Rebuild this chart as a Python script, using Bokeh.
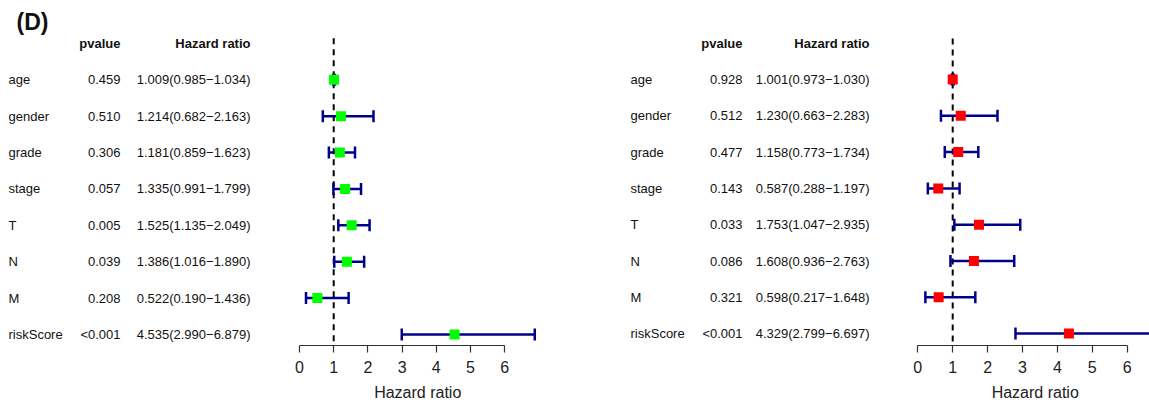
from bokeh.plotting import figure
from bokeh.layouts import row
from bokeh.models import Range1d, FixedTicker, Label, ColumnDataSource, Title
from bokeh.core.properties import value
from bokeh.embed import file_html
from bokeh.resources import INLINE

# ---------------- data ----------------
variables = ["age", "gender", "grade", "stage", "T", "N", "M", "riskScore"]

uni_p = ["0.459", "0.510", "0.306", "0.057", "0.005", "0.039", "0.208", "<0.001"]
uni_hr = [1.009, 1.214, 1.181, 1.335, 1.525, 1.386, 0.522, 4.535]
uni_low = [0.985, 0.682, 0.859, 0.991, 1.135, 1.016, 0.190, 2.990]
uni_high = [1.034, 2.163, 1.623, 1.799, 2.049, 1.890, 1.436, 6.879]

multi_p = ["0.928", "0.512", "0.477", "0.143", "0.033", "0.086", "0.321", "<0.001"]
multi_hr = [1.001, 1.230, 1.158, 0.587, 1.753, 1.608, 0.598, 4.329]
multi_low = [0.973, 0.663, 0.773, 0.288, 1.047, 0.936, 0.217, 2.799]
multi_high = [1.030, 2.283, 1.734, 1.197, 2.935, 2.763, 1.648, 6.697]

x_ticks = [0, 1, 2, 3, 4, 5, 6]
panel_tag = "(D)"
col_headers = ["pvalue", "Hazard ratio"]
axis_title = "Hazard ratio"

FONT = "Liberation Sans"
H = 409


def make_panel(width, zero_px, scale, row0, sp, axis_y, top_px,
               name_px, p_px, hr_px, pvals, hr, low, high, color, tag=None):
    def xd(px):
        return (px - zero_px) / scale

    def yd(px):
        return 1 + (px - row0) / sp

    p = figure(width=width, height=H, output_backend="svg", toolbar_location=None,
               x_range=Range1d(xd(0), xd(width)),
               y_range=Range1d(yd(axis_y), yd(0)),
               y_axis_location=None,
               min_border_left=0, min_border_right=0, min_border_top=0,
               min_border_bottom=H - axis_y)
    p.outline_line_color = None
    p.grid.visible = False
    p.background_fill_color = "white"
    p.border_fill_color = "white"

    n = len(variables)
    ys = list(range(1, n + 1))
    hr_txt = ["%.3f(%.3f\u2212%.3f)" % (a, b, c) for a, b, c in zip(hr, low, high)]
    src = ColumnDataSource(dict(y=ys, name=variables, pv=pvals, hrt=hr_txt,
                                hr=hr, low=low, high=high))

    # table text
    common = dict(text_baseline="middle", text_font=value(FONT),
                  text_font_size="13px", text_color="#111111")
    p.text(x=xd(name_px), y="y", text="name", source=src, text_align="left", **common)
    p.text(x=xd(p_px), y="y", text="pv", source=src, text_align="right", **common)
    p.text(x=xd(hr_px), y="y", text="hrt", source=src, text_align="right", **common)
    p.text(x=[xd(p_px), xd(hr_px)], y=[0, 0], text=col_headers, text_align="right",
           text_font_style="bold", **common)

    # reference line at HR = 1
    p.segment(x0=1, x1=1, y0=yd(top_px), y1=yd(axis_y), line_color="black",
              line_width=2, line_dash="6 5")

    # confidence intervals
    p.segment(x0="low", x1="high", y0="y", y1="y", source=src,
              line_color="#00008B", line_width=2.5)
    for col in ("low", "high"):
        p.scatter(x=col, y="y", source=src, marker="dash", size=12, angle=1.5708,
                  line_color="#00008B", line_width=2.5)
    p.scatter(x="hr", y="y", source=src, marker="square", size=10,
              fill_color=color, line_color=None)

    # axis
    ax = p.xaxis[0]
    ax.bounds = (0, 6)
    ax.ticker = FixedTicker(ticks=x_ticks)
    ax.major_tick_out = 7
    ax.major_tick_in = 0
    ax.minor_tick_out = 0
    ax.minor_tick_in = 0
    ax.axis_line_color = "#333333"
    ax.major_tick_line_color = "#333333"
    ax.axis_line_width = 1.2
    ax.major_tick_line_width = 1.2
    ax.major_label_text_font = FONT
    ax.major_label_text_font_size = "16px"
    ax.major_label_text_color = "#222222"
    ax.major_label_standoff = 8

    # axis title centred on the plotting region [0, max upper limit]
    centre_px = zero_px + scale * max(high) / 2
    t = Title(text=axis_title, align="left", offset=centre_px - 43,
              text_font=FONT, text_font_size="16px", text_font_style="normal",
              text_color="#222222", standoff=12)
    p.add_layout(t, "below")

    if tag:
        p.add_layout(Label(x=xd(16), y=yd(22), x_units="data", y_units="data",
                           text=tag, text_align="left", text_baseline="middle",
                           text_font=FONT, text_font_size="23px",
                           text_font_style="bold", text_color="#111111"))
    return p


left = make_panel(575, 299.0, 34.2, 80.0, 36.7, 348, 38,
                  8, 120, 250, uni_p, uni_hr, uni_low, uni_high, "#00FF00",
                  tag=panel_tag)
right = make_panel(574, 917.3 - 575, 34.9, 79.0, 36.3, 345, 38,
                   630 - 575, 742 - 575, 869 - 575, multi_p, multi_hr, multi_low,
                   multi_high, "#FF0000")

layout = row(left, right, spacing=0)
open("out.html", "w").write(file_html(layout, INLINE))
